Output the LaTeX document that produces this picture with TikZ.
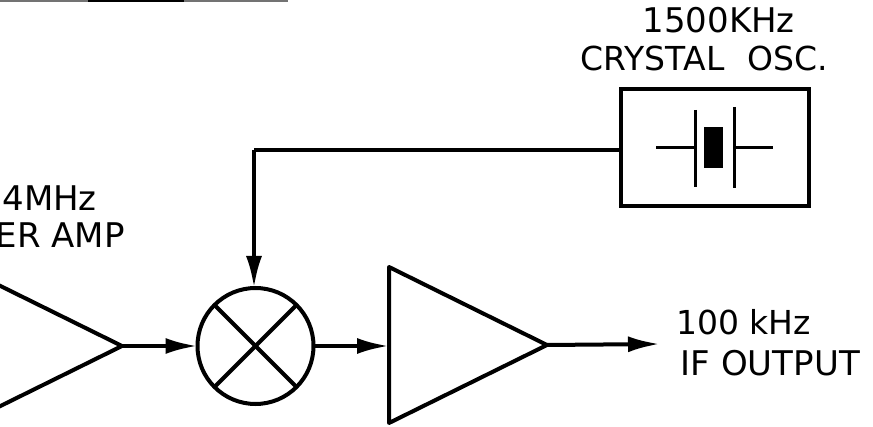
\documentclass[tikz,border=0pt]{standalone}
\usepackage{fontspec}
\setmainfont{DejaVu Sans}
\usetikzlibrary{arrows.meta,shapes.geometric}
\definecolor{ink}{RGB}{0,0,0}
\tikzset{
  wire/.style={ink, line width=4pt, line join=round},
  flow/.style={wire, -{Latex[length=32pt,width=16pt]}},
  amp/.style={draw=ink, line width=4pt, line join=round, shape=isosceles triangle,
              isosceles triangle stretches, minimum width=156pt, minimum height=158pt,
              inner sep=0pt, outer sep=0pt, anchor=apex},
  label/.style={font=\fontsize{34}{34}\selectfont, inner sep=0pt, anchor=base east, text=ink},
  labelsm/.style={label, font=\fontsize{33}{33}\selectfont},
}

\begin{document}
\begin{tikzpicture}[x=1pt,y=-1pt]
  \useasboundingbox (0,0) rectangle (873,427);
  % scan edge
  \coordinate (edgea) at (0,0.8);
  \coordinate (edgeb) at (288,0.8);
  \coordinate (edgec) at (88,0.8);
  \coordinate (edged) at (184,0.8);
  \draw[black!55, line width=1.6pt] (edgea) -- (edgeb);
  \draw[ink, line width=1.6pt] (edgec) -- (edged);
  % blocks
  \node[amp] (ampin) at (122,346) {};
  \node[amp] (ampout) at (547,345) {};
  \node[draw=ink, line width=4pt, circle, minimum size=116pt, inner sep=0pt, outer sep=0pt] (mixer) at (255.5,346) {};
  \draw[wire] (mixer.45) -- (mixer.225);
  \draw[wire] (mixer.135) -- (mixer.315);
  \node[draw=ink, line width=4pt, minimum width=188pt, minimum height=117pt, inner sep=0pt, outer sep=0pt] (osc) at (714.5,147.5) {};
  % crystal
  \node[fill=ink, minimum width=19pt, minimum height=41pt, inner sep=0pt] (slug) at (713.5,147.5) {};
  \coordinate (platela) at (695,110);
  \coordinate (platelb) at (695,187);
  \coordinate (platera) at (734,107);
  \coordinate (platerb) at (734,188);
  \coordinate (leadl) at (656,148);
  \coordinate (leadlend) at (695,148);
  \coordinate (leadr) at (773,148);
  \coordinate (leadrend) at (734,148);
  \draw[ink, line width=3pt] (platela) -- (platelb);
  \draw[ink, line width=3pt] (platera) -- (platerb);
  \draw[ink, line width=3pt] (leadl) -- (leadlend);
  \draw[ink, line width=3pt] (leadrend) -- (leadr);
  % signal path
  \coordinate (ifout) at (660,344);
  \coordinate (bend) at (254,150);
  \draw[wire] (osc.west |- bend) -- (bend);
  \draw[flow] (bend) -- (mixer.north -| bend);
  \draw[flow] (ampin.apex) -- (mixer.west);
  \draw[flow] (mixer.east) -- (ampout.west |- mixer.east);
  \draw[flow] (ampout.apex) -- (ifout);
  % labels
  \node[label] (freqin) at (97,211) {4MHz};
  \node[label] (namein) at (125,248) {ER AMP};
  \node[label] (freqosc) at (795,33) {1500KHz};
  \node[labelsm] (nameosc) at (828,71) {CRYSTAL\hspace{23pt}OSC.};
  \node[labelsm] (freqif) at (811,335) {100 kHz};
  \node[label] (nameif) at (860,376) {IF OUTPUT};
\end{tikzpicture}
\end{document}
